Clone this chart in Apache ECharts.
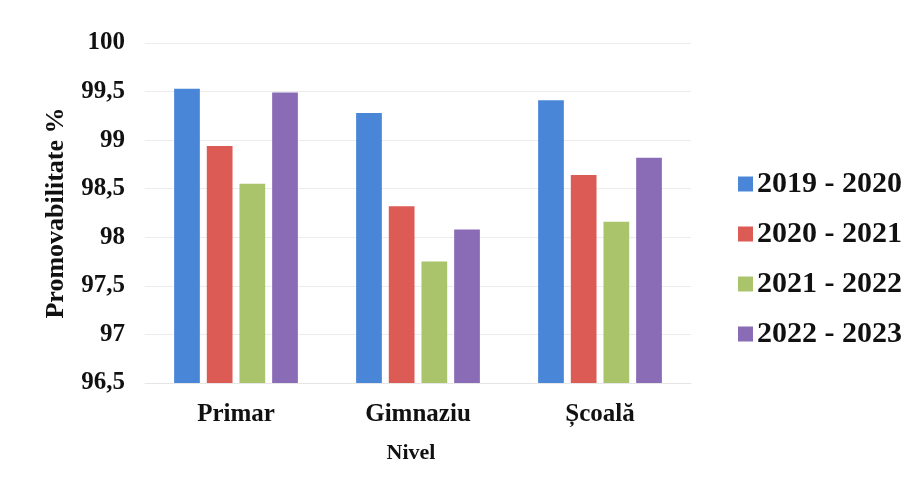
<!DOCTYPE html>
<html><head><meta charset="utf-8">
<script src="https://cdn.jsdelivr.net/npm/echarts@6/dist/echarts.min.js"></script>
<style>html,body{margin:0;padding:0;background:#fff}#c{width:919px;height:496px}</style>
</head><body><div id="c"></div>
<script>
var categories = ['Primar', 'Gimnaziu', 'Școală'];
var seriesNames = ['2019 - 2020', '2020 - 2021', '2021 - 2022', '2022 - 2023'];
var s2019 = [99.53, 99.28, 99.41];
var s2020 = [98.94, 98.32, 98.64];
var s2021 = [98.55, 97.75, 98.16];
var s2022 = [99.49, 98.08, 98.82];
var colors = ['#4a86d8', '#dc5b55', '#a9c46a', '#8a6bb6'];
var font = '"Liberation Serif", "DejaVu Serif", serif';
var allData = [s2019, s2020, s2021, s2022];
var chart = echarts.init(document.getElementById('c'));
chart.setOption({
  animation: false,
  backgroundColor: '#fff',
  color: colors,
  grid: {left: 145, right: 228, top: 43, bottom: 113},
  legend: {
    orient: 'vertical', left: 733, top: 164, itemGap: 20,
    itemWidth: 15, itemHeight: 15, icon: 'rect',
    textStyle: {fontFamily: font, fontWeight: 'bold', fontSize: 30, color: '#111', padding: [0, 0, 0, -1]},
    data: seriesNames
  },
  xAxis: {
    type: 'category', data: categories,
    name: 'Nivel', nameLocation: 'middle', nameGap: 59,
    nameTextStyle: {fontFamily: font, fontWeight: 'bold', fontSize: 22, color: '#111', padding: [0, 14, 0, 0]},
    axisLine: {lineStyle: {color: '#e6e6e6'}},
    axisTick: {show: false},
    axisLabel: {fontFamily: font, fontWeight: 'bold', fontSize: 25, color: '#111', margin: 19}
  },
  yAxis: {
    type: 'value', min: 96.5, max: 100, interval: 0.5,
    name: 'Promovabilitate %', nameLocation: 'middle', nameGap: 76, nameRotate: 90,
    nameTextStyle: {fontFamily: font, fontWeight: 'bold', fontSize: 26, color: '#111'},
    axisLine: {show: false}, axisTick: {show: false},
    splitLine: {lineStyle: {color: '#ececec'}},
    axisLabel: {fontFamily: font, fontWeight: 'bold', fontSize: 25, color: '#111', margin: 20,
      formatter: function (v) { return String(Math.round(v * 10) / 10).replace('.', ','); }}
  },
  series: seriesNames.map(function (n, i) {
    return {name: n, type: 'bar', data: allData[i], barGap: '27%', barCategoryGap: '32%'};
  })
});
</script></body></html>
